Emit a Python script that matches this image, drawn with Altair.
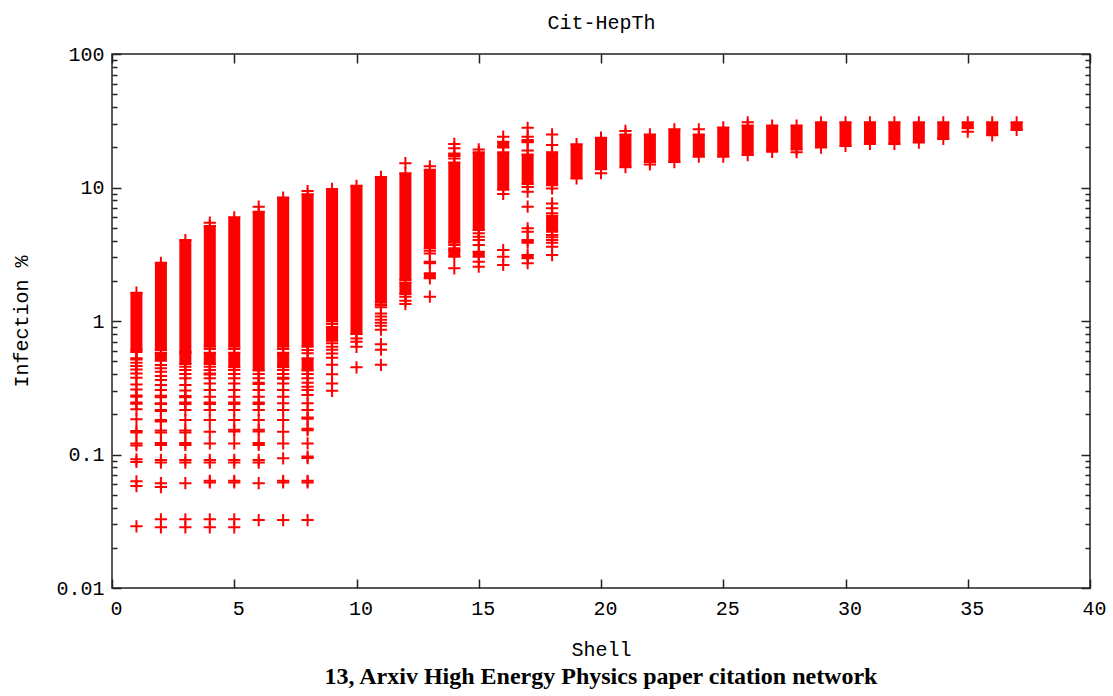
import altair as alt
import pandas as pd

# ---- dense blocks of "+" markers (shell, low, high) ----
bar_shell = [1, 2, 2, 3, 3, 4, 4, 5, 5, 6, 7, 7, 8, 8, 9, 9, 10, 11, 12, 12,
             13, 13, 13, 14, 14, 14, 15, 15, 16, 16, 17, 17, 17, 17, 18, 18,
             19, 20, 21, 22, 23, 24, 25, 26, 27, 28, 29, 30, 31, 32, 33, 34, 35, 36, 37]
bar_lo = [0.606, 0.606, 0.504, 0.589, 0.476, 0.642, 0.476, 0.642, 0.45, 0.425, 0.642, 0.45,
          0.642, 0.425, 0.99, 0.71, 0.80, 1.37, 2.03, 1.59,
          3.5, 2.71, 2.09, 3.86, 3.03, 17.2, 4.81, 3.03, 9.6, 19.9, 10.6, 21.8, 3.86, 2.95,
          10.4, 4.67,
          11.7, 13.7, 14.2, 15.5, 15.5, 17.0, 17.0, 17.5, 18.5, 19.3, 19.9, 20.5, 21.2, 21.2,
          21.7, 23.1, 27.8, 24.6, 27.0]
bar_hi = [1.63, 2.73, 0.579, 4.04, 0.579, 5.15, 0.579, 5.98, 0.579, 6.59, 8.4, 0.579,
          8.9, 0.525, 9.75, 0.89, 10.3, 12.0, 12.8, 1.94,
          13.6, 2.78, 2.28, 15.4, 3.40, 18.0, 18.4, 3.30, 18.4, 22.0, 17.7, 22.7, 4.04, 3.12,
          18.4, 6.15,
          21.1, 23.6, 25.0, 25.0, 27.3, 25.0, 28.2, 29.1, 29.1, 29.1, 30.8, 30.8, 30.8, 30.8,
          30.8, 30.8, 30.8, 30.8, 30.8]

# ---- isolated "+" markers, per shell ----
pts_1 = [0.585, 0.525, 0.515, 0.487, 0.46, 0.434, 0.405, 0.376, 0.335, 0.307, 0.277, 0.271,
         0.245, 0.24, 0.218, 0.184, 0.15, 0.146, 0.121, 0.117, 0.092, 0.088, 0.063, 0.058, 0.029]
pts_2 = [0.468, 0.442, 0.417, 0.387, 0.361, 0.332, 0.304, 0.275, 0.268, 0.242, 0.239, 0.215,
         0.212, 0.181, 0.177, 0.151, 0.146, 0.122, 0.118, 0.091, 0.087, 0.061, 0.057, 0.0327, 0.0285]
pts_3 = [0.455, 0.43, 0.401, 0.372, 0.332, 0.301, 0.274, 0.268, 0.245, 0.239, 0.215, 0.181,
         0.151, 0.146, 0.122, 0.118, 0.091, 0.087, 0.061, 0.0327, 0.0285]
pts_4 = [5.45, 0.617, 0.455, 0.43, 0.404, 0.398, 0.372, 0.341, 0.304, 0.271, 0.245, 0.239,
         0.215, 0.181, 0.148, 0.121, 0.091, 0.087, 0.0635, 0.0618, 0.0327, 0.0285]
pts_5 = [0.617, 0.43, 0.401, 0.372, 0.341, 0.304, 0.271, 0.245, 0.239, 0.215, 0.181, 0.153,
         0.149, 0.121, 0.091, 0.087, 0.0635, 0.0618, 0.0327, 0.0285]
pts_6 = [7.18, 0.401, 0.372, 0.344, 0.338, 0.304, 0.271, 0.245, 0.239, 0.215, 0.181, 0.153,
         0.149, 0.122, 0.118, 0.091, 0.087, 0.061, 0.0323]
pts_7 = [0.617, 0.43, 0.401, 0.375, 0.369, 0.341, 0.304, 0.271, 0.242, 0.215, 0.181, 0.148,
         0.121, 0.0936, 0.0635, 0.0618, 0.0323]
pts_8 = [9.4, 0.606, 0.573, 0.401, 0.372, 0.345, 0.322, 0.304, 0.279, 0.242, 0.215, 0.189,
         0.185, 0.156, 0.152, 0.121, 0.0965, 0.094, 0.0635, 0.0618, 0.0323]
pts_9 = [0.95, 0.90, 0.68, 0.64, 0.61, 0.57, 0.53, 0.47, 0.40, 0.34, 0.30]
pts_10 = [0.74, 0.70, 0.64, 0.45]
pts_11 = [1.32, 1.27, 1.14, 1.08, 1.02, 0.97, 0.92, 0.86, 0.67, 0.61, 0.47]
pts_12 = [15.2, 1.52, 1.42, 1.34]
pts_13 = [14.4, 3.36, 3.21, 1.52]
pts_14 = [16.5, 19.7, 21.2, 3.71, 3.50, 2.48]
pts_15 = [19.3, 4.54, 4.28, 4.04, 3.71, 2.78, 2.55]
pts_16 = [24.0, 8.94, 3.40, 3.03, 2.63]
pts_17 = [18.9, 24.0, 28.0, 10.1, 9.3, 7.18, 4.95, 4.67, 2.71]
pts_18 = [20.8, 25.0, 9.85, 7.6, 7.0, 6.4, 4.41, 4.24, 4.04, 3.86, 3.6, 3.12]
late_shell = [20, 21, 22, 24, 26, 28, 35]
late_val = [12.8, 26.5, 14.9, 27.3, 30.8, 18.4, 26.2]

# ---- axis ticks / labels ----
x_ticks = [0, 5, 10, 15, 20, 25, 30, 35, 40]
y_major = [0.01, 0.1, 1, 10, 100]
y_minor = [0.02, 0.03, 0.04, 0.05, 0.06, 0.07, 0.08, 0.09,
           0.2, 0.3, 0.4, 0.5, 0.6, 0.7, 0.8, 0.9,
           2, 3, 4, 5, 6, 7, 8, 9,
           20, 30, 40, 50, 60, 70, 80, 90]

title_text = "Cit-HepTh"
x_title = "Shell"
y_title = "Infection %"
caption = "13, Arxiv High Energy Physics paper citation network"

# ---- tables ----
bars = pd.DataFrame({"shell": bar_shell, "lo": bar_lo, "hi": bar_hi})
per_shell = [pts_1, pts_2, pts_3, pts_4, pts_5, pts_6, pts_7, pts_8, pts_9,
             pts_10, pts_11, pts_12, pts_13, pts_14, pts_15, pts_16, pts_17, pts_18]
rows = []
for i, lst in enumerate(per_shell):
    for v in lst:
        rows.append({"shell": i + 1, "val": v})
for s, v in zip(late_shell, late_val):
    rows.append({"shell": s, "val": v})
pts = pd.DataFrame(rows)
ends_hi = pd.DataFrame({"shell": bar_shell, "val": bar_hi})
ends_lo = pd.DataFrame({"shell": bar_shell, "val": bar_lo})

RED = "#ff0000"
PLUS = "M-1,0L1,0M0,-1L0,1"
FONT = "Liberation Mono"
FS = 20
TICK = "#222222"
MAJ = 9
MIN = 5

xscale = alt.Scale(domain=[0, 40], nice=False, zero=False)
yscale = alt.Scale(type="log", domain=[0.01, 100], nice=False)

x_bottom = alt.Axis(orient="bottom", values=x_ticks, tickSize=MAJ, offset=-MAJ, tickColor=TICK,
                    tickWidth=1.5, labelFont=FONT, labelFontSize=FS, labelColor="black",
                    labelPadding=10, labelOffset=4, labelFlush=False, labelOverlap=False,
                    title=x_title, titleFont=FONT, titleFontSize=FS, titleFontWeight="normal",
                    titleColor="black", titlePadding=21)
x_top = alt.Axis(orient="top", values=x_ticks, tickSize=MAJ, offset=-MAJ, tickColor=TICK,
                 tickWidth=1.5, labels=False, title=title_text, titleFont=FONT, titleFontSize=FS,
                 titleFontWeight="normal", titleColor="black", titlePadding=21)
y_left = alt.Axis(orient="left", values=y_major, tickSize=MAJ, offset=-MAJ, tickColor=TICK,
                  tickWidth=1.5, format="~g", labelFont=FONT, labelFontSize=FS, labelColor="black",
                  labelPadding=8, labelFlush=False, labelOverlap=False,
                  title=y_title, titleFont=FONT, titleFontSize=FS, titleFontWeight="normal",
                  titleColor="black", titlePadding=24)
y_right = alt.Axis(orient="right", values=y_major, tickSize=MAJ, offset=-MAJ, tickColor=TICK,
                   tickWidth=1.5, labels=False, title=None)
y_left_minor = alt.Axis(orient="left", values=y_minor, tickSize=MIN, offset=-MIN, tickColor=TICK,
                        tickWidth=1.5, labels=False, title=None)
y_right_minor = alt.Axis(orient="right", values=y_minor, tickSize=MIN, offset=-MIN, tickColor=TICK,
                         tickWidth=1.5, labels=False, title=None)

bar_layer = alt.Chart(bars).mark_rule(color=RED, strokeWidth=12, strokeCap="butt", opacity=1).encode(
    x=alt.X("shell:Q", scale=xscale, axis=x_bottom),
    y=alt.Y("lo:Q", scale=yscale, axis=y_left),
    y2="hi:Q",
)

plus_kw = dict(shape=PLUS, size=150, filled=False, stroke=RED, strokeWidth=2, opacity=1)

pt_layer = alt.Chart(pts).mark_point(**plus_kw).encode(
    x=alt.X("shell:Q", scale=xscale, axis=x_top),
    y=alt.Y("val:Q", scale=yscale, axis=y_right),
)
hi_layer = alt.Chart(ends_hi).mark_point(**plus_kw).encode(
    x=alt.X("shell:Q", scale=xscale, axis=None),
    y=alt.Y("val:Q", scale=yscale, axis=y_left_minor),
)
lo_layer = alt.Chart(ends_lo).mark_point(**plus_kw).encode(
    x=alt.X("shell:Q", scale=xscale, axis=None),
    y=alt.Y("val:Q", scale=yscale, axis=y_right_minor),
)

chart = alt.layer(bar_layer, pt_layer, hi_layer, lo_layer).resolve_axis(
    x="independent", y="independent"
).properties(
    width=978,
    height=534,
    autosize=alt.AutoSizeParams(type="none"),
    padding={"left": 112, "top": 54, "right": 23, "bottom": 108},
    title=alt.TitleParams(text=caption, orient="bottom", anchor="middle",
                          font="Liberation Serif", fontSize=24, fontWeight="bold",
                          color="black", offset=6),
    background="white",
).configure_view(
    stroke="#222222", strokeWidth=1.5
).configure_axis(
    grid=False, domain=False
)

chart.save("out.html", embed_options={"renderer": "svg", "actions": False})
